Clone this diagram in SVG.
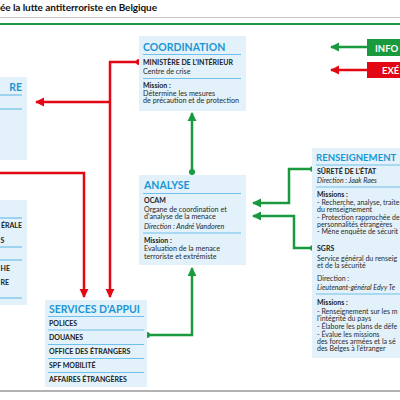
<svg xmlns="http://www.w3.org/2000/svg" width="400" height="400" viewBox="0 0 400 400">
<defs>
<style>
text{font-family:Lato,"Noto Sans","Liberation Sans",sans-serif;fill:#2a2a2a}
.box{fill:#e3f1fa}
.ttl{font-size:10.5px;font-weight:bold;fill:#1b96d4}
.sep{stroke:#6fc0ea;stroke-width:1.2}
.b{font-size:7px;font-weight:bold;fill:#222}
.t{font-size:7.2px}
.i{font-size:7.2px;font-style:italic}
.r .t,.r .i{font-size:7px}
.red{stroke:#e30613;stroke-width:2.5;fill:none}
.grn{stroke:#1a9a3e;stroke-width:2.5;fill:none}
</style>
<marker id="ar" viewBox="0 0 10 10" refX="9" refY="5" markerUnits="userSpaceOnUse" markerWidth="9" markerHeight="10" orient="auto"><path d="M0,0L10,5L0,10z" fill="#e30613"/></marker>
<marker id="ag" viewBox="0 0 10 10" refX="9" refY="5" markerUnits="userSpaceOnUse" markerWidth="9" markerHeight="10" orient="auto"><path d="M0,0L10,5L0,10z" fill="#1a9a3e"/></marker>
</defs>
<rect width="400" height="400" fill="#fff"/>
<g id="header">
<text x="0" y="11" style="font-size:10px;font-weight:bold;fill:#111" textLength="157">ée la lutte antiterroriste en Belgique</text>
<line x1="0" y1="17.5" x2="400" y2="17.5" stroke="#c8c8c8" stroke-width="1"/>
<line x1="0" y1="24" x2="400" y2="24" stroke="#1a9a3e" stroke-width="2"/>
<line x1="0" y1="391" x2="400" y2="391" stroke="#9a9a9a" stroke-width="1.5"/>
</g>
<g id="legend">
<line class="grn" x1="368" y1="47" x2="331" y2="47" marker-end="url(#ag)"/>
<rect x="367" y="39" width="40" height="17" fill="#1a9a3e"/>
<text x="375" y="51.5" style="font-size:9.5px;font-weight:bold;fill:#fff">INFO</text>
<line class="red" x1="368" y1="70" x2="331" y2="70" marker-end="url(#ar)"/>
<rect x="367" y="62" width="40" height="16" fill="#e30613"/>
<text x="382" y="74" style="font-size:9.5px;font-weight:bold;fill:#fff">EXÉ</text>
</g>
<g id="connectors">
<path class="red" d="M139,62H110V297" marker-end="url(#ar)"/>
<path class="red" d="M110,102H36" marker-end="url(#ar)"/>
<path class="red" d="M0,173H84V297" marker-end="url(#ar)"/>
<circle cx="139" cy="62" r="3" fill="#e30613"/>
<path class="grn" d="M192,172V113" marker-end="url(#ag)"/>
<circle cx="192" cy="172" r="3" fill="#1a9a3e"/>
<path class="grn" d="M147,335H192V268" marker-end="url(#ag)"/>
<circle cx="147" cy="335" r="3" fill="#1a9a3e"/>
<path class="grn" d="M313,169H289V203H253" marker-end="url(#ag)"/>
<circle cx="313" cy="169" r="3" fill="#1a9a3e"/>
<path class="grn" d="M313,248H294V216H253" marker-end="url(#ag)"/>
<circle cx="313" cy="248" r="3" fill="#1a9a3e"/>
</g>
<g id="coordination">
<rect class="box" x="139" y="36" width="107" height="75"/>
<text class="ttl" x="143" y="51">COORDINATION</text>
<line class="sep" x1="143" y1="54.5" x2="241" y2="54.5"/>
<text class="b" x="143" y="65">MINISTÈRE DE L'INTÉRIEUR</text>
<text class="t" x="143" y="74">Centre de crise</text>
<line class="sep" x1="143" y1="78.5" x2="241" y2="78.5"/>
<text class="b" x="143" y="88">Mission :</text>
<text class="t" x="143" y="95.5">Détermine les mesures</text>
<text class="t" x="143" y="103">de précaution et de protection</text>
</g>
<g id="analyse">
<rect class="box" x="139" y="175" width="107" height="90"/>
<text class="ttl" x="144" y="189">ANALYSE</text>
<line class="sep" x1="143" y1="193.5" x2="241" y2="193.5"/>
<text class="b" x="144" y="203">OCAM</text>
<text class="t" x="144" y="211.5">Organe de coordination et</text>
<text class="t" x="144" y="219">d'analyse de la menace</text>
<text class="i" x="144" y="229">Direction : André Vandoren</text>
<line class="sep" x1="143" y1="233" x2="241" y2="233"/>
<text class="b" x="144" y="242.5">Mission :</text>
<text class="t" x="144" y="251">Evaluation de la menace</text>
<text class="t" x="144" y="258.5">terroriste et extrémiste</text>
</g>
<g id="services">
<rect class="box" x="45" y="300" width="102" height="87"/>
<text class="ttl" x="49" y="313">SERVICES D'APPUI</text>
<line class="sep" x1="48" y1="316.5" x2="144" y2="316.5"/>
<text class="b" x="49" y="326">POLICES</text>
<line class="sep" x1="48" y1="330" x2="144" y2="330"/>
<text class="b" x="49" y="340">DOUANES</text>
<line class="sep" x1="48" y1="344.5" x2="144" y2="344.5"/>
<text class="b" x="49" y="354">OFFICE DES ÉTRANGERS</text>
<line class="sep" x1="48" y1="358.5" x2="144" y2="358.5"/>
<text class="b" x="49" y="368">SPF MOBILITÉ</text>
<line class="sep" x1="48" y1="372.5" x2="144" y2="372.5"/>
<text class="b" x="49" y="382">AFFAIRES ÉTRANGÈRES</text>
</g>
<g id="renseignement" class="r">
<rect class="box" x="312" y="148" width="90" height="210"/>
<text class="ttl" x="316" y="161" style="font-size:9.6px">RENSEIGNEMENT</text>
<line class="sep" x1="316" y1="165" x2="400" y2="165"/>
<text class="b" x="317" y="174">SÛRETÉ DE L'ÉTAT</text>
<text class="i" x="317" y="183">Direction : Jaak Raes</text>
<line class="sep" x1="316" y1="187" x2="400" y2="187"/>
<text class="b" x="317" y="197">Missions :</text>
<text class="t" x="317" y="205">- Recherche, analyse, traite</text>
<text class="t" x="317" y="212">du renseignement</text>
<text class="t" x="317" y="220">- Protection rapprochée de</text>
<text class="t" x="317" y="227">personnalités étrangères</text>
<text class="t" x="317" y="234">- Mène enquête de sécurit</text>
<text class="b" x="317" y="250.5">SGRS</text>
<text class="t" x="317" y="261">Service général du renseig</text>
<text class="t" x="317" y="268">et de la sécurité</text>
<text class="t" x="317" y="281">Direction :</text>
<text class="i" x="317" y="289.5">Lieutenant-général Edyy Te</text>
<line class="sep" x1="316" y1="294" x2="400" y2="294"/>
<text class="b" x="317" y="305">Missions :</text>
<text class="t" x="317" y="314">- Renseignement sur les m</text>
<text class="t" x="317" y="321">l'intégrité du pays</text>
<text class="t" x="317" y="329">- Élabore les plans de défe</text>
<text class="t" x="317" y="337">- Évalue les missions</text>
<text class="t" x="317" y="344">des forces armées et la sé</text>
<text class="t" x="317" y="351">des Belges à l'étranger</text>
</g>
<g id="left-top">
<rect class="box" x="-2" y="77" width="29" height="83"/>
<text class="ttl" x="22" y="91" text-anchor="end">RE</text>
<line class="sep" x1="0" y1="95" x2="22" y2="95"/>
<line class="sep" x1="0" y1="109" x2="22" y2="109"/>
</g>
<g id="left-bottom">
<rect class="box" x="-2" y="200" width="29" height="105"/>
<line class="sep" x1="0" y1="218" x2="22" y2="218"/>
<text class="b" x="22" y="228" text-anchor="end">ÉRALE</text>
<text class="b" x="0.5" y="243">S</text>
<line class="sep" x1="0" y1="247" x2="22" y2="247"/>
<line class="sep" x1="0" y1="260" x2="22" y2="260"/>
<text class="b" x="0.5" y="271">HE</text>
<text class="b" x="0.5" y="285">RE</text>
<line class="sep" x1="0" y1="298" x2="22" y2="298"/>
</g>
</svg>
